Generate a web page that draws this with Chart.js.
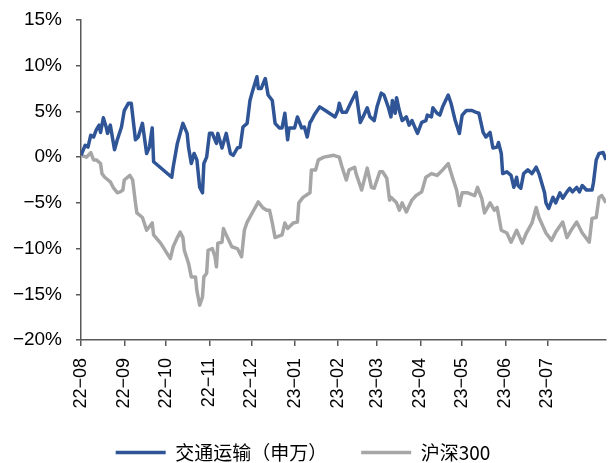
<!DOCTYPE html>
<html lang="zh">
<head>
<meta charset="UTF-8">
<title>交通运输(申万) vs 沪深300</title>
<script src="https://cdn.jsdelivr.net/npm/chart.js@4"></script>
<style>
  html, body { margin: 0; padding: 0; background: #fff; }
  #wrap { width: 608px; height: 463px; }
</style>
</head>
<body>
<div id="wrap"><canvas id="chart"></canvas></div>
<script>
// x values are days counted from 2022-08-01
const monthDays = [0, 31, 61, 92, 122, 153, 184, 212, 243, 273, 304, 334];
const monthLabels = ['22−08', '22−09', '22−10', '22−11', '22−12', '23−01',
                     '23−02', '23−03', '23−04', '23−05', '23−06', '23−07'];
const yTickValues = [-20, -15, -10, -5, 0, 5, 10, 15];

// 交通运输(申万), cumulative change in %
const transDays = [0,3,5,7,9,11,13,14,16,18, 19,21,24,26,29,31,34,36,39,41,
  44,47,49,51,52,65,66,69,73,76, 77,79,81,83,85,87,88,90,92,94,
  97,98,101,104,107,109,112,114,116,119, 121,123,126,127,129,132,134,137,139,142,
  144,146,148,149,153,155,158,160,162,164, 165,167,171,175,182,184,185,187,190,194,
  197,200,202,205,207,210,212,215,217,220, 222,223,225,226,228,230,233,235,237,241,
  244,247,248,251,252,255,257,259,263,265, 268,271,273,276,280,283,285,288,290,293,
  295,298,299,301,302,305,308,310,312,313, 315,317,320,323,326,328,332,333,335,338,
  340,343,345,348,350,352,355,357,359,362, 366,367,369,371,374,376];
const transVals = [0.2,1.3,1.1,2.4,2.2,3.0,3.5,2.7,4.3,3.3, 2.6,3.5,0.8,1.9,3.3,5.1,5.9,5.9,1.9,2.2,
  3.7,0.4,1.1,3.2,-0.5,-2.2,-1.1,1.5,3.7,2.6, 1.1,-0.7,0.4,-0.3,-3.3,-3.9,-0.7,0.0,2.6,2.6,
  1.5,2.6,1.0,2.6,0.4,0.2,1.0,1.1,3.3,3.7, 6.2,7.3,8.8,7.5,7.5,8.6,6.8,6.2,3.7,3.2,
  3.2,4.8,1.9,3.2,3.2,4.4,3.2,3.3,2.2,3.8, 4.0,4.6,5.5,5.1,4.4,5.1,5.9,4.9,4.9,6.2,
  7.1,3.8,4.4,5.4,4.4,4.0,5.5,7.0,6.8,5.5, 4.4,6.2,4.8,6.5,5.1,4.0,4.4,3.5,4.0,2.6,
  3.8,4.0,4.6,4.4,5.4,4.8,4.6,5.5,6.8,5.9, 4.0,2.6,4.6,5.1,5.1,4.9,4.8,2.7,2.2,2.7,
  1.0,1.1,1.6,0.4,-1.8,-1.6,-2.0,-3.3,-2.2,-3.1, -3.4,-1.8,-1.4,-1.8,-1.1,-1.8,-3.9,-5.0,-5.6,-4.4,
  -5.0,-3.9,-4.5,-3.8,-3.4,-3.8,-3.3,-3.8,-3.1,-3.6, -3.6,-2.8,-0.3,0.4,0.5,-0.3];

// 沪深300, cumulative change in %
const hs300Days = [0,4,7,9,11,14,15,17,21,23, 26,28,30,31,35,37,39,40,44,47,
  51,52,57,64,66,69,71,73,74,77, 79,82,83,85,87,88,90,91,94,96,
  97,98,101,102,104,108,112,115,117,119, 123,127,130,133,135,137,139,144,146,148,
  152,155,156,159,164,165,168,170,174,181, 185,187,190,192,196,197,201,205,208,210,
  214,216,219,221,222,226,228,230,233,237, 240,244,247,251,255,259,263,266,269,271,
  273,277,282,284,287,289,293,296,298,301, 305,308,312,316,319,323,326,328,333,337,
  340,345,348,351,355,359,364,366,369,371, 373,376];
const hs300Vals = [0.2,0.0,0.5,-0.3,-0.3,-0.7,-1.8,-2.2,-2.7,-3.3, -3.9,-3.8,-3.6,-2.5,-2.0,-2.5,-5.0,-6.1,-6.6,-8.0,
  -7.2,-8.5,-9.4,-11.1,-9.8,-8.8,-8.2,-8.8,-10.2,-11.6, -13.1,-13.1,-14.6,-16.2,-15.3,-13.1,-12.7,-10.2,-10.0,-10.9,
  -12.0,-9.4,-9.3,-7.8,-8.5,-9.8,-10.0,-10.9,-8.0,-7.1, -6.0,-4.9,-5.5,-5.8,-5.8,-7.2,-8.8,-8.5,-7.2,-7.8,
  -7.2,-7.1,-5.0,-4.4,-3.9,-1.4,-1.4,-0.3,0.0,0.2, 0.0,-1.1,-2.5,-1.4,-1.1,-1.8,-3.6,-1.2,-3.3,-3.4,
  -1.6,-1.6,-2.3,-4.7,-4.4,-5.0,-5.8,-5.0,-6.0,-4.7, -4.2,-3.8,-2.2,-1.8,-2.0,-1.4,-0.7,-2.2,-3.6,-5.3,
  -3.9,-3.9,-4.2,-3.3,-4.5,-6.1,-5.0,-5.8,-5.5,-8.0, -8.3,-9.3,-8.0,-9.4,-8.3,-7.2,-5.5,-6.6,-8.3,-9.1,
  -8.2,-7.1,-8.8,-8.0,-7.1,-8.3,-9.3,-6.7,-6.6,-4.4, -4.2,-5.0];

const axisColor = '#595959';
const fontFamily = "'Liberation Sans', Arial, sans-serif";

function toPoints(days, vals) {
    return days.map((d, i) => ({ x: d, y: vals[i] }));
}

new Chart(document.getElementById('chart'), {
    type: 'line',
    data: {
        datasets: [
            {
                label: '交通运输（申万）',
                data: toPoints(transDays, transVals),
                borderColor: '#2F5597',
                backgroundColor: '#2F5597',
                borderWidth: 3.5,
                pointRadius: 0,
                tension: 0,
                borderJoinStyle: 'round'
            },
            {
                label: '沪深300',
                data: toPoints(hs300Days, hs300Vals),
                borderColor: '#A6A6A6',
                backgroundColor: '#A6A6A6',
                borderWidth: 3.5,
                pointRadius: 0,
                tension: 0,
                borderJoinStyle: 'round'
            }
        ]
    },
    options: {
        responsive: true,
        maintainAspectRatio: false,
        animation: false,
        // negative bottom padding pushes the legend down to where the reference has it
        layout: { padding: { top: 20, right: 2, left: 0, bottom: -9 } },
        scales: {
            x: {
                type: 'linear',
                min: 0,
                max: 376,
                afterBuildTicks: axis => { axis.ticks = monthDays.map(v => ({ value: v })); },
                afterFit: axis => { axis.height = 69; },
                ticks: {
                    autoSkip: false,
                    minRotation: 90,
                    maxRotation: 90,
                    padding: 12,
                    color: '#000',
                    font: { family: fontFamily, size: 18 },
                    callback: (v, i) => monthLabels[i]
                },
                grid: { drawOnChartArea: false, drawTicks: true, tickLength: 6, color: axisColor, lineWidth: 1.5 },
                border: { display: true, color: axisColor, width: 1.5 }
            },
            y: {
                min: -20,
                max: 15,
                afterBuildTicks: axis => { axis.ticks = yTickValues.map(v => ({ value: v })); },
                afterFit: axis => {
                    axis.width = 81;
                    // tick padding would otherwise push the plot top down
                    axis.paddingTop = 0;
                    axis.paddingBottom = 0;
                },
                ticks: {
                    padding: 14,
                    color: '#000',
                    font: { family: fontFamily, size: 19 },
                    callback: v => (v < 0 ? '−' + Math.abs(v) : v) + '%'
                },
                grid: { drawOnChartArea: false, drawTicks: true, tickLength: 5, color: axisColor, lineWidth: 1.5 },
                border: { display: true, color: axisColor, width: 1.5 }
            }
        },
        plugins: {
            legend: {
                position: 'bottom',
                labels: {
                    usePointStyle: true,
                    pointStyle: 'line',
                    pointStyleWidth: 50,
                    padding: 34,
                    color: '#000',
                    font: { family: "'Noto Sans CJK SC', sans-serif", size: 19 }
                }
            },
            tooltip: { enabled: false }
        }
    }
});
</script>
</body>
</html>
